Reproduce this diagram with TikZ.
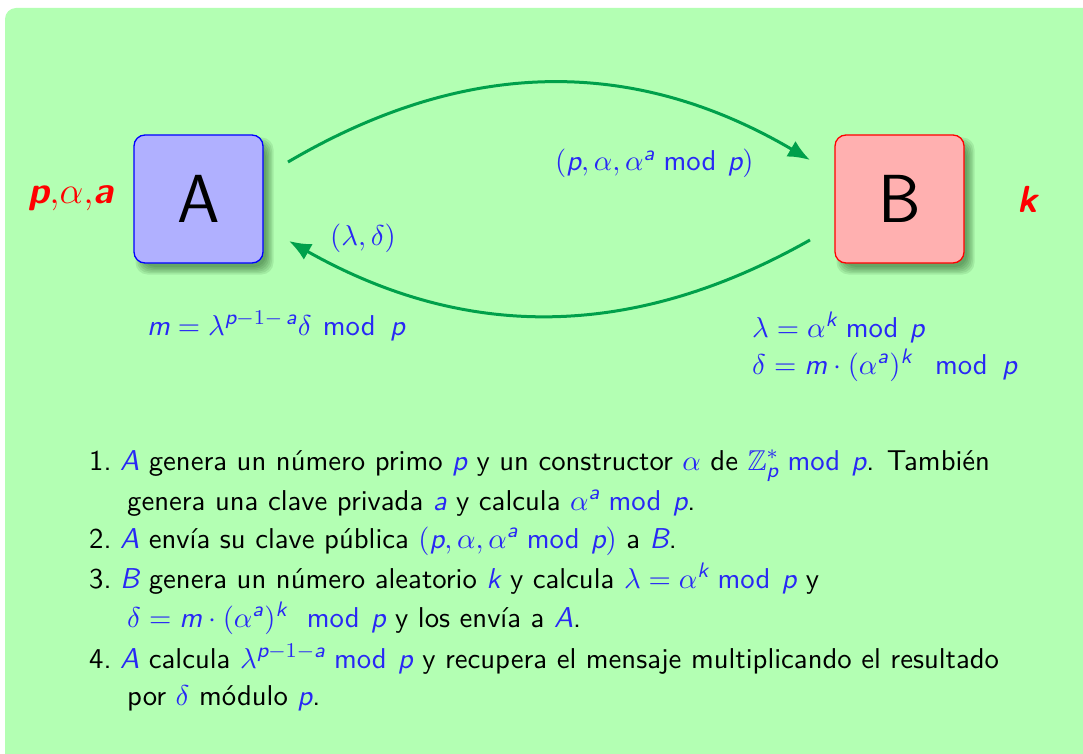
\documentclass[tikz,border=0pt]{standalone}
\usepackage{amsmath,amssymb}
\usepackage{fontspec}
\renewcommand\familydefault{\sfdefault}
\usetikzlibrary{arrows.meta}
\definecolor{bggreen}{RGB}{179,255,179}
\definecolor{boxblue}{RGB}{176,176,255}
\definecolor{boxred}{RGB}{255,176,176}
\definecolor{flowgreen}{RGB}{0,160,75}
\definecolor{mblue}{RGB}{40,40,245}
\definecolor{shadowc}{RGB}{20,70,20}
\newcommand\vv[1]{\text{\itshape #1}}
\newcommand\bv[1]{\text{\bfseries\itshape #1}}
\newcommand\md{\mkern5mu\text{mod}\mkern7mu}
\newcommand\bm[1]{\textcolor{mblue}{$#1$}}
\newcommand\enl[1]{\scalebox{2.62}{#1}}
\tikzset{
  party/.style={draw, line width=1.3pt, rounded corners=11pt, minimum width=129pt, minimum height=128pt,
    inner sep=0pt, font=\fontsize{68}{68}\selectfont},
  softshadow/.style={fill=shadowc, opacity=0.1, rounded corners=12pt},
  flow/.style={draw=flowgreen, line width=3pt, -{Latex[length=22pt,width=18pt]}},
  secret/.style={text=red, anchor=base west, inner sep=0pt, font=\fontsize{14.4}{17}\selectfont\bfseries},
  msg/.style={text=mblue, anchor=base west, inner sep=0pt, font=\fontsize{10.95}{13.6}\selectfont},
  item/.style={anchor=base west, inner sep=0pt, font=\fontsize{10.95}{13.6}\selectfont},
}
\begin{document}
\begin{tikzpicture}[x=1pt,y=-1pt]
\useasboundingbox (0,0) rectangle (1083,754);
\fill[bggreen, rounded corners=11pt] (5,8) rectangle (1110,790);
% soft shadows
\coordinate (Ac) at (198.5,199);
\coordinate (Bc) at (899.5,199);
\foreach \c in {Ac,Bc}{
  \foreach \s in {-3,-1.5,0,1.5,3,4.5}{
    \fill[softshadow] ([shift={(-64.5+6-\s,-64+7-\s)}]\c) rectangle ([shift={(64.5+6+\s,64+7+\s)}]\c);
  }
}
% parties
\node[party, fill=boxblue, draw=blue] (A) at (Ac) {A};
\node[party, fill=boxred, draw=red] (B) at (Bc) {B};
% secrets
\node[secret] (sa) at (28,203) {\enl{$\bv{p}{,}\alpha{,}\bv{a}$}};
\node[secret] (sb) at (1017,212) {\enl{$\bv{k}$}};
% arrows
\coordinate (a1) at (288,162);
\coordinate (b1) at (810,160);
\coordinate (b2) at (810,240);
\coordinate (a2) at (289,241);
\draw[flow] (a1) .. controls +(177,-104) and +(-177,-104) .. (b1);
\draw[flow] (b2) .. controls +(-177,100) and +(177,100) .. (a2);
% messages
\node[msg] (m1) at (555,171) {\enl{$(\vv{p},\alpha,\alpha^{\vv{a}}\md \vv{p})$}};
\node[msg] (m2) at (330,245) {\enl{$(\lambda,\delta)$}};
\node[msg] (ca) at (147,335) {\enl{$\vv{m}=\lambda^{\vv{p}-1-\,\vv{a}}\delta\mkern7mu\text{mod}\mkern9mu\vv{p}$}};
\node[msg] (cb1) at (752,337) {\enl{$\lambda=\alpha^{\vv{k}}\md\vv{p}$}};
\node[msg] (cb2) at (752,374) {\enl{$\delta=\vv{m}\cdot(\alpha^{\vv{a}})^{\vv{k}}\mkern14mu\text{mod}\mkern9mu\vv{p}$}};
% list
\node[item] (n1) at (89,470) {\enl{1.}};
\node[item] (t1) at (120,470) {\enl{\bm{\vv{A}} genera un número primo \bm{\vv{p}} y un constructor \bm{\alpha} de \bm{\mathbb{Z}_{\vv{p}}^{*}\md\vv{p}}. También}};
\node[item] (t1b) at (127,510) {\enl{genera una clave privada \bm{\vv{a}} y calcula \bm{\alpha^{\vv{a}}\md\vv{p}}.}};
\node[item] (n2) at (89,548) {\enl{2.}};
\node[item] (t2) at (120,548) {\enl{\bm{\vv{A}} envía su clave pública \bm{(\vv{p},\alpha,\alpha^{\vv{a}}\md\vv{p})} a \bm{\vv{B}}.}};
\node[item] (n3) at (89,588) {\enl{3.}};
\node[item] (t3) at (120,588) {\enl{\bm{\vv{B}} genera un número aleatorio \bm{\vv{k}} y calcula \bm{\lambda=\alpha^{\vv{k}}\md\vv{p}} y}};
\node[item] (t3b) at (127,627) {\enl{\bm{\delta=\vv{m}\cdot(\alpha^{\vv{a}})^{\vv{k}}\mkern12mu\text{mod}\mkern7mu\vv{p}} y los envía a \bm{\vv{A}}.}};
\node[item] (n4) at (89,668) {\enl{4.}};
\node[item] (t4) at (120,668) {\enl{\bm{\vv{A}} calcula \bm{\lambda^{\vv{p}-1-\vv{a}}\md\vv{p}} y recupera el mensaje multiplicando el resultado}};
\node[item] (t4b) at (127,705) {\enl{por \bm{\delta} módulo \bm{\vv{p}}.}};
\end{tikzpicture}
\end{document}
